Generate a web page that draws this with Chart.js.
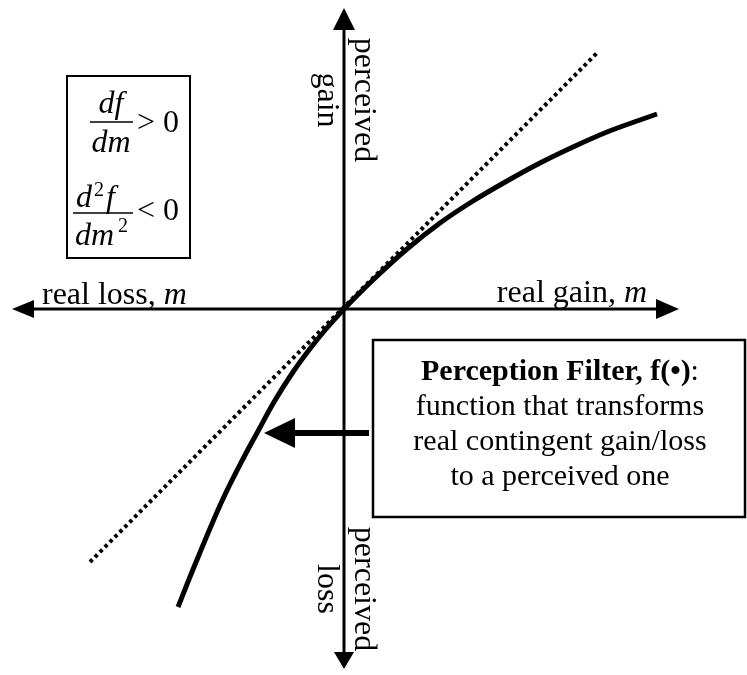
<!DOCTYPE html>
<html><head><meta charset="utf-8">
<script src="https://cdn.jsdelivr.net/npm/chart.js@4"></script>
<style>html,body{margin:0;padding:0;background:#fff;overflow:hidden}#wrap{width:747px;height:675px;position:relative}canvas{display:block}</style>
</head><body><div id="wrap"><canvas id="c" width="747" height="675"></canvas></div>
<script>
// ---- data (real change m -> perceived f(m)), in drawing units ----
const realM      = [-166, -150, -122, -100, -87, -70, -51, -35, -18, 0, 30, 63, 96, 129, 163, 196, 229, 263, 296, 313];
const perceivedF = [-298, -258, -192, -148, -124, -93, -63, -41, -20, 0, 30, 60, 86, 108, 128, 146, 162, 177, 189, 195];
const identityM  = [-254, 254];
const identityF  = [-253, 257];

// ---- text ----
const gainAxisLabel = ['real gain, ', 'm'];
const lossAxisLabel = ['real loss, ', 'm'];
const topLabel = ['perceived', 'gain'];
const bottomLabel = ['perceived', 'loss'];
const boxTitle = ['Perception Filter, f(•)', ':'];
const boxLines = ['function that transforms', 'real contingent gain/loss', 'to a perceived one'];

const SERIF = '"Liberation Serif", "Times New Roman", serif';

function arrowHead(ctx, tx, ty, dx, dy, len, half) {
  const bx = tx - dx * len, by = ty - dy * len;
  const px = -dy, py = dx;
  ctx.beginPath();
  ctx.moveTo(tx, ty);
  ctx.lineTo(bx + px * half, by + py * half);
  ctx.lineTo(bx - px * half, by - py * half);
  ctx.closePath();
  ctx.fill();
}
function seg(ctx, x1, y1, x2, y2) {
  ctx.beginPath(); ctx.moveTo(x1, y1); ctx.lineTo(x2, y2); ctx.stroke();
}
function rotatedLines(ctx, cy, lines, baseX, gap, font) {
  // text rotated 90deg clockwise; baseX = screen x of first line's baseline
  ctx.save();
  ctx.translate(baseX, cy);
  ctx.rotate(Math.PI / 2);
  ctx.font = font;
  ctx.textAlign = 'center';
  ctx.textBaseline = 'alphabetic';
  lines.forEach((t, i) => ctx.fillText(t, 0, i * gap));
  ctx.restore();
}

const diagram = {
  id: 'diagram',
  beforeDatasetsDraw(chart) {
    const { ctx, scales: { x, y } } = chart;
    const X = v => x.getPixelForValue(v), Y = v => y.getPixelForValue(v);
    ctx.save();
    ctx.fillStyle = '#000'; ctx.strokeStyle = '#000'; ctx.lineWidth = 3; ctx.lineCap = 'butt';
    const ox = X(0), oy = Y(0);
    const left = X(-332), right = X(335), top = Y(301), bottom = Y(-360);
    seg(ctx, left + 15, oy, right - 15, oy);
    seg(ctx, ox, top + 15, ox, bottom - 15);
    arrowHead(ctx, left, oy, -1, 0, 22, 9);
    arrowHead(ctx, right, oy, 1, 0, 23, 10);
    arrowHead(ctx, ox, top, 0, -1, 22, 11);
    arrowHead(ctx, ox, bottom, 0, 1, 17, 10);
    ctx.restore();
  },
  afterDatasetsDraw(chart) {
    const { ctx, scales: { x, y } } = chart;
    const X = v => x.getPixelForValue(v), Y = v => y.getPixelForValue(v);
    ctx.save();
    ctx.fillStyle = '#000'; ctx.strokeStyle = '#000';
    ctx.textBaseline = 'alphabetic';

    // axis labels
    const reg = '32px ' + SERIF, ita = 'italic 32px ' + SERIF;
    ctx.font = reg; let w1 = ctx.measureText(gainAxisLabel[0]).width;
    ctx.font = ita; let w2 = ctx.measureText(gainAxisLabel[1]).width;
    let sx = X(303) - w1 - w2, by = Y(7);
    ctx.font = reg; ctx.textAlign = 'left'; ctx.fillText(gainAxisLabel[0], sx, by);
    ctx.font = ita; ctx.fillText(gainAxisLabel[1], sx + w1, by);
    ctx.font = reg; w1 = ctx.measureText(lossAxisLabel[0]).width;
    sx = X(-302); by = Y(5);
    ctx.fillText(lossAxisLabel[0], sx, by);
    ctx.font = ita; ctx.fillText(lossAxisLabel[1], sx + w1, by);

    // rotated vertical-axis labels
    rotatedLines(ctx, Y(209), topLabel, X(11), 37, reg);
    rotatedLines(ctx, Y(-280), bottomLabel, X(11), 37, reg);

    // formula box
    ctx.lineWidth = 2;
    ctx.strokeRect(X(-277), Y(233), X(-154) - X(-277), Y(51) - Y(233));
    ctx.lineWidth = 1.6;
    // first fraction
    ctx.textAlign = 'center';
    ctx.font = ita; ctx.fillText('df', X(-233), Y(196));
    seg(ctx, X(-254), Y(187), X(-211), Y(187));
    ctx.fillText('dm', X(-233), Y(157));
    ctx.textAlign = 'left'; ctx.font = reg; ctx.fillText('> 0', X(-207), Y(177));
    // second fraction
    ctx.font = ita; ctx.fillText('d', X(-268), Y(102));
    ctx.font = '20px ' + SERIF; ctx.fillText('2', X(-250), Y(113));
    ctx.font = ita; ctx.fillText('f', X(-238), Y(102));
    seg(ctx, X(-271), Y(96), X(-211), Y(96));
    ctx.fillText('dm', X(-269), Y(64));
    ctx.font = '20px ' + SERIF; ctx.fillText('2', X(-226), Y(77));
    ctx.font = reg; ctx.fillText('< 0', X(-207), Y(89));

    // perception box
    ctx.lineWidth = 2.5;
    ctx.fillStyle = '#fff';
    const bx0 = X(29), by0 = Y(-31), bx1 = X(401), by1 = Y(-208);
    ctx.fillRect(bx0, by0, bx1 - bx0, by1 - by0);
    ctx.strokeRect(bx0, by0, bx1 - bx0, by1 - by0);
    ctx.fillStyle = '#000';
    const cx = X(216);
    const bf = 'bold 30px ' + SERIF, nf = '30px ' + SERIF;
    ctx.font = bf; const tw1 = ctx.measureText(boxTitle[0]).width;
    ctx.font = nf; const tw2 = ctx.measureText(boxTitle[1]).width;
    ctx.textAlign = 'left';
    const tsx = cx - (tw1 + tw2) / 2;
    ctx.font = bf; ctx.fillText(boxTitle[0], tsx, Y(-71));
    ctx.font = nf; ctx.fillText(boxTitle[1], tsx + tw1, Y(-71));
    ctx.textAlign = 'center';
    boxLines.forEach((t, i) => ctx.fillText(t, cx, Y(-106 - 35 * i)));

    // pointer arrow
    ctx.lineWidth = 6;
    const ay = Y(-124);
    seg(ctx, X(25), ay, X(-50), ay);
    arrowHead(ctx, X(-80), ay, -1, 0, 31, 15);
    ctx.restore();
  }
};

new Chart(document.getElementById('c'), {
  type: 'scatter',
  data: {
    datasets: [
      {
        label: 'identity',
        data: identityM.map((m, i) => ({ x: m, y: identityF[i] })),
        showLine: true, borderColor: '#000', borderWidth: 4, borderDash: [3.5, 3.5],
        pointRadius: 0, borderCapStyle: 'butt'
      },
      {
        label: 'f(m)',
        data: realM.map((m, i) => ({ x: m, y: perceivedF[i] })),
        showLine: true, borderColor: '#000', borderWidth: 5,
        cubicInterpolationMode: 'monotone', pointRadius: 0, borderCapStyle: 'butt'
      }
    ]
  },
  options: {
    responsive: false, animation: false, devicePixelRatio: 1,
    layout: { padding: 0 },
    plugins: { legend: { display: false }, tooltip: { enabled: false } },
    scales: {
      x: { type: 'linear', display: false, min: -344, max: 403 },
      y: { type: 'linear', display: false, min: -366, max: 309 }
    }
  },
  plugins: [diagram]
});
</script></body></html>
